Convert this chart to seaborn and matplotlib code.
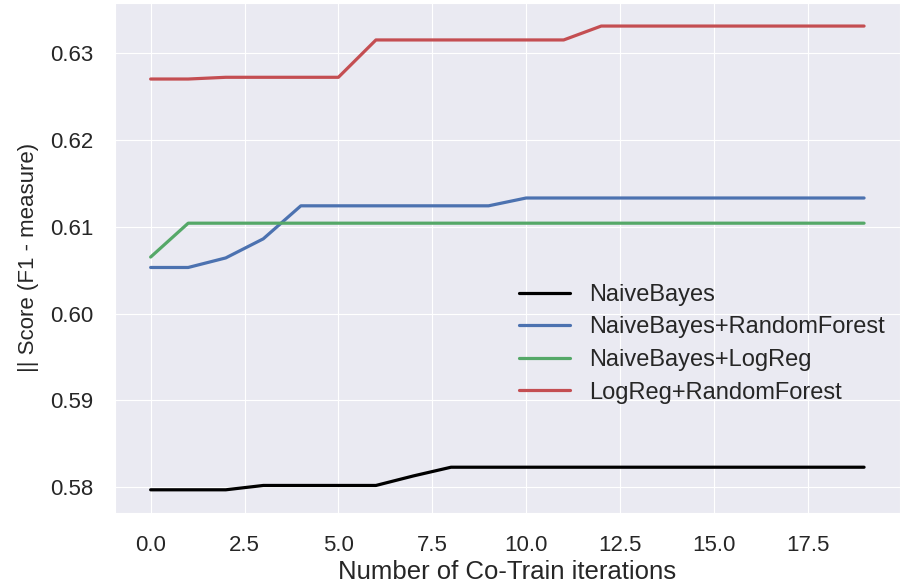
import numpy as np
import pandas as pd
import seaborn as sns
import matplotlib.pyplot as plt

# Co-training F1 scores per iteration
iterations = list(range(20))
naive_bayes = [0.5797, 0.5797, 0.5797, 0.5802, 0.5802, 0.5802, 0.5802, 0.5813, 0.5823, 0.5823,
               0.5823, 0.5823, 0.5823, 0.5823, 0.5823, 0.5823, 0.5823, 0.5823, 0.5823, 0.5823]
nb_rf = [0.6053, 0.6053, 0.6064, 0.6086, 0.6124, 0.6124, 0.6124, 0.6124, 0.6124, 0.6124,
         0.6133, 0.6133, 0.6133, 0.6133, 0.6133, 0.6133, 0.6133, 0.6133, 0.6133, 0.6133]
nb_logreg = [0.6065, 0.6104, 0.6104, 0.6104, 0.6104, 0.6104, 0.6104, 0.6104, 0.6104, 0.6104,
             0.6104, 0.6104, 0.6104, 0.6104, 0.6104, 0.6104, 0.6104, 0.6104, 0.6104, 0.6104]
logreg_rf = [0.6270, 0.6270, 0.6272, 0.6272, 0.6272, 0.6272, 0.6315, 0.6315, 0.6315, 0.6315,
             0.6315, 0.6315, 0.6331, 0.6331, 0.6331, 0.6331, 0.6331, 0.6331, 0.6331, 0.6331]

series = {
    'NaiveBayes': (naive_bayes, 'black'),
    'NaiveBayes+RandomForest': (nb_rf, '#4C72B0'),
    'NaiveBayes+LogReg': (nb_logreg, '#55A868'),
    'LogReg+RandomForest': (logreg_rf, '#C44E52'),
}

sns.set_style('darkgrid')
plt.rcParams['font.family'] = ['Liberation Sans', 'DejaVu Sans']

fig = plt.figure(figsize=(9.01, 5.85), dpi=100)
ax = fig.add_axes([0.1276, 0.1231, 0.871, 0.872])

for name, (vals, col) in series.items():
    df = pd.DataFrame({'iter': iterations, 'score': vals})
    sns.lineplot(data=df, x='iter', y='score', color=col, linewidth=2.3, label=name, ax=ax)

ax.set_yticks([0.58, 0.59, 0.60, 0.61, 0.62, 0.63])
ax.set_yticklabels(['0.58', '0.59', '0.60', '0.61', '0.62', '0.63'])
ax.tick_params(labelsize=16, colors='#262626', pad=12)
ax.set_xlabel('Number of Co-Train iterations', fontsize=18.5, color='#262626', labelpad=3)
ax.set_ylabel('|| Score (F1 - measure)', fontsize=16, color='#262626', labelpad=8)

leg = ax.legend(loc='upper left', bbox_to_anchor=(0.488, 0.491), frameon=False,
                fontsize=17, handlelength=2.15, labelspacing=0.45, handletextpad=0.8)

fig.savefig('out.png', dpi=100)
